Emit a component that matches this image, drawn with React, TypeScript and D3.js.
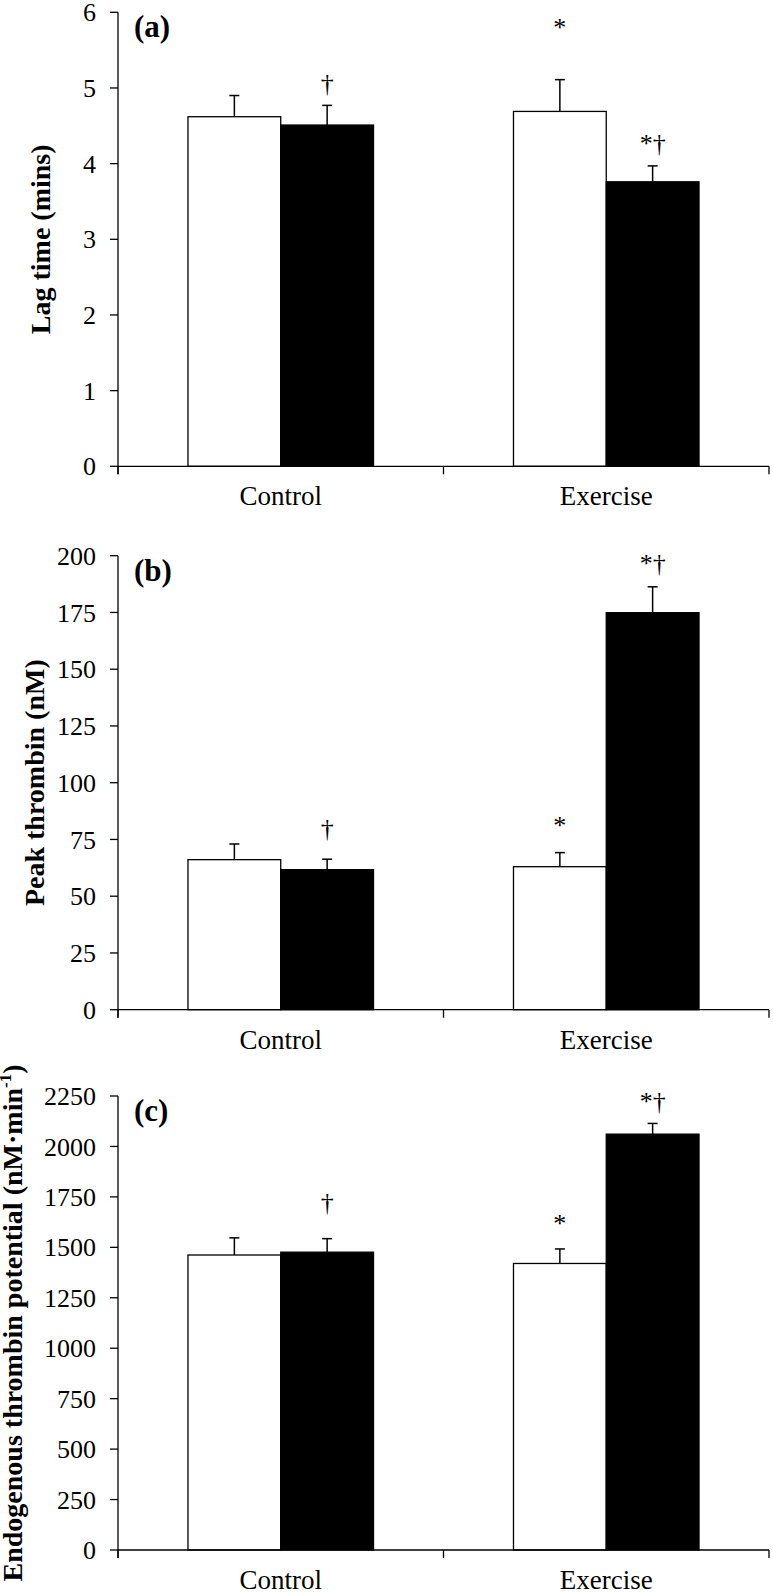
import React from "react";
import * as d3 from "d3";

// ---- data ----
const categories = ["Control", "Exercise"];

const lagMeanOpen = [4.62, 4.69];
const lagSeOpen = [0.28, 0.42];
const lagMeanFilled = [4.51, 3.76];
const lagSeFilled = [0.26, 0.21];
const lagTicks = [0, 1, 2, 3, 4, 5, 6];
const lagMarksOpen = ["", "*"];
const lagMarksFilled = ["†", "*†"];
const lagMarkAtOpen = [0, 5.85];
const lagMarkAtFilled = [5.11, 4.31];

const peakMeanOpen = [66.1, 63.0];
const peakSeOpen = [6.9, 6.2];
const peakMeanFilled = [61.7, 174.9];
const peakSeFilled = [4.6, 11.4];
const peakTicks = [0, 25, 50, 75, 100, 125, 150, 175, 200];
const peakMarksOpen = ["", "*"];
const peakMarksFilled = ["†", "*†"];
const peakMarkAtOpen = [0, 82.8];
const peakMarkAtFilled = [81.4, 198];

const etpMeanOpen = [1462, 1420];
const etpSeOpen = [85, 72];
const etpMeanFilled = [1476, 2061];
const etpSeFilled = [67, 53];
const etpTicks = [0, 250, 500, 750, 1000, 1250, 1500, 1750, 2000, 2250];
const etpMarksOpen = ["", "*"];
const etpMarksFilled = ["†", "*†"];
const etpMarkAtOpen = [0, 1637];
const etpMarkAtFilled = [1742, 2241];

const FONT = '"Liberation Serif", "Times New Roman", Times, "DejaVu Serif", serif';

type PanelProps = {
  top: number;
  letter: string;
  title: React.ReactNode;
  titleX: number;
  ticks: number[];
  meanOpen: number[];
  seOpen: number[];
  meanFilled: number[];
  seFilled: number[];
  marksOpen: string[];
  marksFilled: string[];
  markAtOpen: number[];
  markAtFilled: number[];
};

const LEFT = 118;
const RIGHT = 769;
const H = 454;

function Panel(p: PanelProps) {
  const bottom = p.top + H;
  const yMax = p.ticks[p.ticks.length - 1];
  const y = d3.scaleLinear().domain([0, yMax]).range([bottom, p.top]);
  const xOuter = d3.scaleBand<string>().domain(categories).range([LEFT, RIGHT]).padding(0);
  const groupW = xOuter.bandwidth() * 0.57;
  const xInner = d3.scaleBand<string>().domain(["open", "filled"]).range([0, groupW]).padding(0);
  const bw = xInner.bandwidth();
  const series = [
    { key: "open", mean: p.meanOpen, se: p.seOpen, marks: p.marksOpen, at: p.markAtOpen, fill: "#fff" },
    { key: "filled", mean: p.meanFilled, se: p.seFilled, marks: p.marksFilled, at: p.markAtFilled, fill: "#000" },
  ];
  const cx = (c: string) => (xOuter(c) as number) + xOuter.bandwidth() / 2;
  const boundaries = [LEFT, ...categories.map((c) => (xOuter(c) as number) + xOuter.bandwidth())];
  const ts: React.CSSProperties = { fontFamily: FONT };
  return (
    <g>
      {series.map((s) =>
        categories.map((c, i) => {
          const x0 = cx(c) - groupW / 2 + (xInner(s.key) as number);
          const yTop = y(s.mean[i]);
          const yErr = y(s.mean[i] + s.se[i]);
          const mx = x0 + bw / 2;
          return (
            <g key={s.key + c}>
              <rect x={x0} y={yTop} width={bw} height={bottom - yTop} fill={s.fill} stroke="#000" strokeWidth={1.3} />
              <line x1={mx} x2={mx} y1={yTop} y2={yErr} stroke="#000" strokeWidth={1.5} />
              <line x1={mx - 5} x2={mx + 5} y1={yErr} y2={yErr} stroke="#000" strokeWidth={1.5} />
              {s.marks[i] ? (
                <text x={mx} y={y(s.at[i]) + 12} textAnchor="middle" fontSize={26} fill="#000" style={ts}>
                  {s.marks[i]}
                </text>
              ) : null}
            </g>
          );
        })
      )}
      {/* axes */}
      <line x1={LEFT} x2={LEFT} y1={p.top} y2={bottom + 8} stroke="#000" strokeWidth={1.3} />
      <line x1={LEFT} x2={RIGHT} y1={bottom} y2={bottom} stroke="#000" strokeWidth={1.3} />
      {boundaries.map((bx, i) => (
        <line key={"xt" + i} x1={bx} x2={bx} y1={bottom} y2={bottom + 8} stroke="#000" strokeWidth={1.3} />
      ))}
      {p.ticks.map((t) => (
        <g key={"yt" + t}>
          <line x1={LEFT - 8} x2={LEFT} y1={y(t)} y2={y(t)} stroke="#000" strokeWidth={1.3} />
          <text x={LEFT - 22} y={y(t)} dy="0.35em" textAnchor="end" fontSize={26} fill="#000" style={ts}>
            {t}
          </text>
        </g>
      ))}
      {categories.map((c) => (
        <text key={"cl" + c} x={cx(c)} y={bottom + 39} textAnchor="middle" fontSize={27} fill="#000" style={ts}>
          {c}
        </text>
      ))}
      <text x={LEFT + 16} y={p.top + 25} fontSize={31} fontWeight="bold" fill="#000" style={ts}>
        {p.letter}
      </text>
      <text
        transform={`translate(${p.titleX},${p.top + H / 2}) rotate(-90)`}
        textAnchor="middle"
        fontSize={28}
        fontWeight="bold"
        fill="#000"
        style={ts}
      >
        {p.title}
      </text>
    </g>
  );
}

export default function App() {
  return (
    <svg
      width={773}
      height={1595}
      viewBox="0 0 773 1595"
      style={{ position: "absolute", left: 0, top: 0, background: "#fff", fontFamily: FONT }}
    >
      <rect x={0} y={0} width={773} height={1595} fill="#fff" />
      <Panel
        top={12.3}
        letter="(a)"
        title="Lag time (mins)"
        titleX={50}
        ticks={lagTicks}
        meanOpen={lagMeanOpen}
        seOpen={lagSeOpen}
        meanFilled={lagMeanFilled}
        seFilled={lagSeFilled}
        marksOpen={lagMarksOpen}
        marksFilled={lagMarksFilled}
        markAtOpen={lagMarkAtOpen}
        markAtFilled={lagMarkAtFilled}
      />
      <Panel
        top={555.7}
        letter="(b)"
        title="Peak thrombin (nM)"
        titleX={43.5}
        ticks={peakTicks}
        meanOpen={peakMeanOpen}
        seOpen={peakSeOpen}
        meanFilled={peakMeanFilled}
        seFilled={peakSeFilled}
        marksOpen={peakMarksOpen}
        marksFilled={peakMarksFilled}
        markAtOpen={peakMarkAtOpen}
        markAtFilled={peakMarkAtFilled}
      />
      <Panel
        top={1096}
        letter="(c)"
        title={
          <>
            <tspan>Endogenous thrombin potential (nM·min</tspan>
            <tspan fontSize={17} dy={-11}>-1</tspan>
            <tspan dy={11}>)</tspan>
          </>
        }
        titleX={22}
        ticks={etpTicks}
        meanOpen={etpMeanOpen}
        seOpen={etpSeOpen}
        meanFilled={etpMeanFilled}
        seFilled={etpSeFilled}
        marksOpen={etpMarksOpen}
        marksFilled={etpMarksFilled}
        markAtOpen={etpMarkAtOpen}
        markAtFilled={etpMarkAtFilled}
      />
    </svg>
  );
}
